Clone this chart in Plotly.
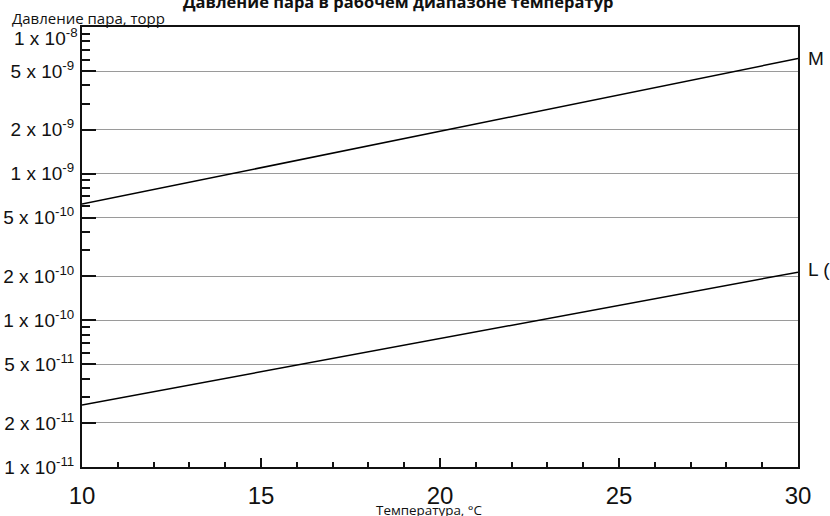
import math
import plotly.graph_objects as go

# ---- data ----
temps = [10, 20, 30]
series_M = [6.2e-10, 1.95e-9, 6.1e-9]
series_L = [2.65e-11, 7.5e-11, 2.13e-10]
series_names = ["M", "L ("]

y_tickvals = [1e-11, 2e-11, 5e-11, 1e-10, 2e-10, 5e-10, 1e-9, 2e-9, 5e-9, 1e-8]
y_ticktext = ["1 x 10<sup>-11</sup>", "2 x 10<sup>-11</sup>", "5 x 10<sup>-11</sup>",
              "1 x 10<sup>-10</sup>", "2 x 10<sup>-10</sup>", "5 x 10<sup>-10</sup>",
              "1 x 10<sup>-9</sup>", "2 x 10<sup>-9</sup>", "5 x 10<sup>-9</sup>",
              "1 x 10<sup>-8</sup>"]
x_tickvals = [10, 15, 20, 25, 30]

title_text = "Давление пара в рабочем диапазоне температур"
y_title = "Давление пара, торр"
x_title = "Температура, °C"

minor_y = [k * 10.0 ** e for e in (-11, -10, -9) for k in range(1, 10)] + [1e-8]

L_MARGIN, R_MARGIN, T_MARGIN, B_MARGIN = 82, 32, 27, 49
PW = 830 - L_MARGIN - R_MARGIN
PH = 516 - T_MARGIN - B_MARGIN


def px_x(px):
    return (px - L_MARGIN) / PW


def px_y(py):
    return (516 - B_MARGIN - py) / PH


fig = go.Figure()
for vals, name, ysh in ((series_M, series_names[0], 0), (series_L, series_names[1], 3)):
    fig.add_trace(go.Scatter(x=temps, y=vals, mode="lines",
                             line=dict(color="black", width=1.5),
                             showlegend=False, cliponaxis=False))
    fig.add_annotation(x=temps[-1], y=math.log10(vals[-1]), text=name,
                       xref="x", yref="y", showarrow=False, xanchor="left",
                       yanchor="middle", xshift=8, yshift=ysh,
                       font=dict(family="Liberation Sans", size=19, color="#111"))

fig.update_layout(
    width=830, height=516,
    margin=dict(l=L_MARGIN, r=R_MARGIN, t=T_MARGIN, b=B_MARGIN, autoexpand=False),
    paper_bgcolor="white", plot_bgcolor="white",
    font=dict(family="Liberation Sans", color="#111"),
)

fig.update_xaxes(
    range=[10, 30], tickmode="array", tickvals=x_tickvals,
    ticks="inside", ticklen=9, tickwidth=2, tickcolor="#111",
    minor=dict(ticks="inside", ticklen=5, tickwidth=1.5, tickcolor="#111", dtick=1, showgrid=False),
    showline=True, linecolor="#111", linewidth=2, mirror=True,
    showgrid=False, zeroline=False, automargin=False,
    tickfont=dict(family="Liberation Sans", size=24, color="#111"),
    ticklabelstandoff=6,
)

# top tick label is drawn lower (as in the reference), so blank it on the axis
axis_ticktext = y_ticktext[:-1] + [""]
fig.update_yaxes(
    type="log", range=[-11, -8], tickmode="array",
    tickvals=y_tickvals, ticktext=axis_ticktext,
    ticks="inside", ticklen=14, tickwidth=2, tickcolor="#111",
    minor=dict(ticks="inside", ticklen=8, tickwidth=1.5, tickcolor="#111",
               tickmode="array", tickvals=minor_y, showgrid=False),
    showline=True, linecolor="#111", linewidth=2, mirror=True,
    showgrid=True, gridcolor="#9a9a9a", gridwidth=1,
    zeroline=False, automargin=False,
    tickfont=dict(family="Liberation Sans", size=19, color="#111"),
    ticklabelstandoff=2,
)
fig.add_annotation(x=0, y=math.log10(y_tickvals[-1]), xref="paper", yref="y",
                   xanchor="right", yanchor="middle", showarrow=False,
                   xshift=-2, yshift=-10, text=y_ticktext[-1],
                   font=dict(family="Liberation Sans", size=19, color="#111"))

fig.add_annotation(x=px_x(10), y=px_y(18), xref="paper", yref="paper",
                   xanchor="left", yanchor="middle", showarrow=False,
                   text=y_title, font=dict(family="Open Sans", size=15, color="#111"))
fig.add_annotation(x=px_x(429), y=px_y(510), xref="paper", yref="paper",
                   xanchor="center", yanchor="middle", showarrow=False,
                   text=x_title, font=dict(family="Open Sans", size=13.4, color="#111"))
fig.add_annotation(x=px_x(398), y=px_y(1), xref="paper", yref="paper",
                   xanchor="center", yanchor="middle", showarrow=False,
                   text="<b>" + title_text + "</b>",
                   font=dict(family="Open Sans", size=16.5, color="#111"))

fig.write_html("out.html")
